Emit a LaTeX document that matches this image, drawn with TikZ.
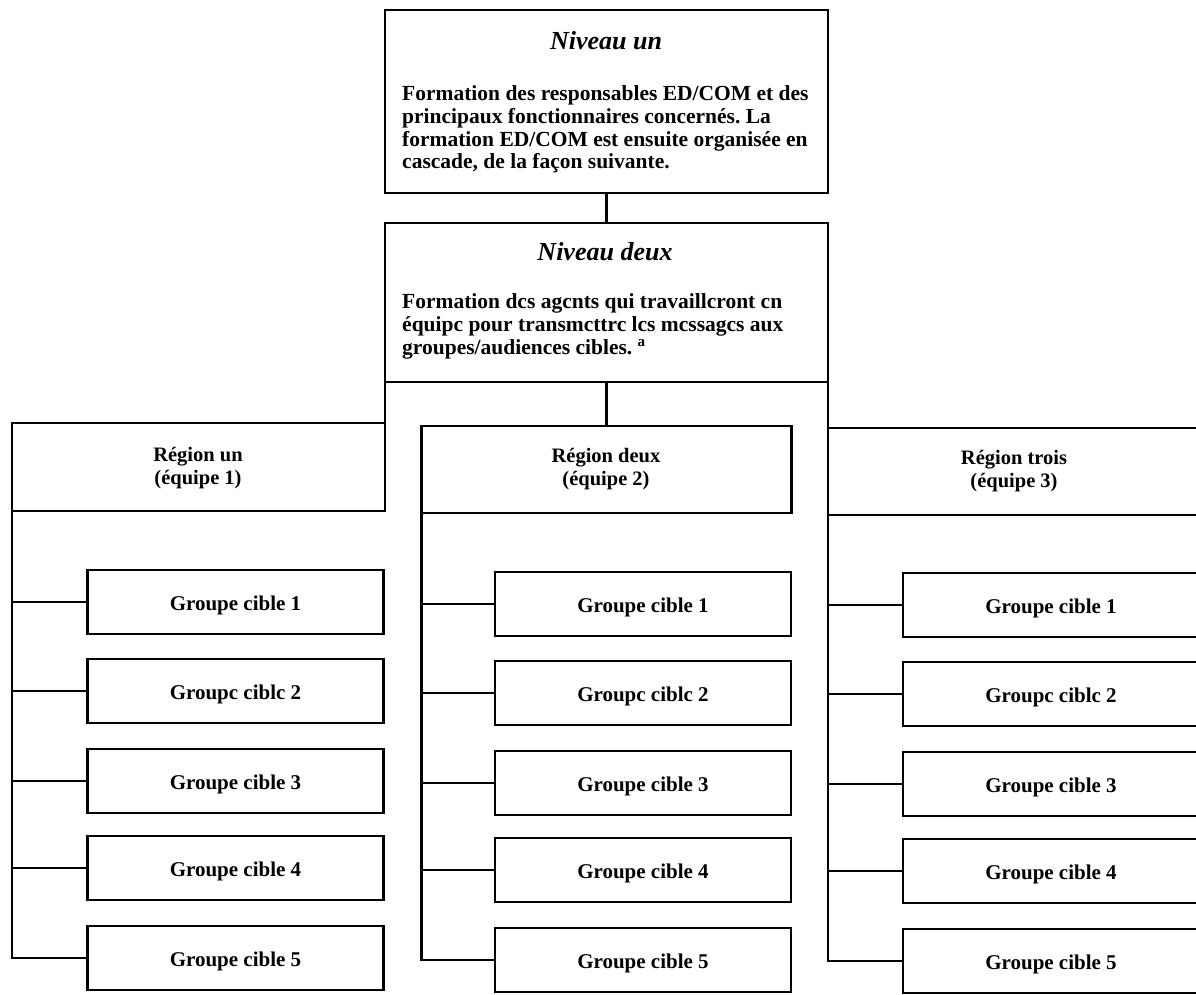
\documentclass[tikz,border=0pt]{standalone}
\usepackage{fontspec}
\setmainfont{Liberation Serif}
\frenchspacing
\begin{document}
\begin{tikzpicture}[x=1pt,y=-1pt,
  box/.style={draw, line width=2.8pt, rectangle, inner sep=0pt, outer sep=0pt},
  grp/.style={box, minimum width=296pt, minimum height=64pt,
    font=\fontsize{21}{23}\selectfont\bfseries, text height=17pt, text depth=0pt},
  reg/.style={box, minimum width=370pt, minimum height=87pt},
  rtxt/.style={anchor=base, inner sep=0pt, font=\fontsize{20.5}{23}\selectfont\bfseries},
  lvl/.style={box, minimum width=443pt},
  body/.style={anchor=base west, inner sep=0pt, font=\fontsize{21.5}{23}\selectfont\bfseries},
  ttl/.style={anchor=base, inner sep=0pt, font=\fontsize{26}{30}\selectfont\bfseries\itshape},
  link/.style={line width=2.8pt}
]
\clip (0,0) rectangle (1196,994);
% Niveau un
\node[lvl, minimum height=183pt] (n1) at (606.5,101.5) {};
\node[ttl] (t1) at (606,49) {Niveau un};
\node[body] (b11) at (402,100) {Formation des responsables ED/COM et des};
\node[body] (b12) at (402,123) {principaux fonctionnaires concernés. La};
\node[body] (b13) at (402,146) {formation ED/COM est ensuite organisée en};
\node[body] (b14) at (402,168) {cascade, de la façon suivante.};
% Niveau deux
\node[lvl, minimum height=159pt] (n2) at (606.5,302.5) {};
\node[ttl] (t2) at (605,260) {Niveau deux};
\node[body] (b21) at (402,308) {Formation dcs agcnts qui travaillcront cn};
\node[body] (b22) at (402,331) {équipc pour transmcttrc lcs mcssagcs aux};
\node[body] (b23) at (402,354) {groupes/audiences cibles. \textsuperscript{a}};
\draw[link] (n1.south) -- (n2.north);
% Regions
\node[reg, minimum width=373pt, minimum height=88pt] (r1) at (198.5,467) {};
\node[reg] (r2) at (606.5,469.5) {};
\node[reg] (r3) at (1013,471.5) {};
\node[rtxt] (r1a) at (198,461) {Région un};
\node[rtxt] (r1b) at (198,484) {(équipe 1)};
\node[rtxt] (r2a) at (606,462) {Région deux};
\node[rtxt] (r2b) at (606,485) {(équipe 2)};
\node[rtxt] (r3a) at (1014,464) {Région trois};
\node[rtxt] (r3b) at (1014,487) {(équipe 3)};
\draw[link] (n2.south west) -- (r1.north east);
\draw[link] (n2.south) -- (r2.north);
\draw[link] (n2.south east) -- (r3.north west);
% Groups
\foreach \c/\x/\dy/\sx in {1/235.5/-2/r1, 2/643/0/r2, 3/1051/1/r3}{
  \foreach \k/\y/\t in {1/604/Groupe cible 1, 2/693/Groupc ciblc 2, 3/783/Groupe cible 3, 4/870/Groupe cible 4, 5/960/Groupe cible 5}{
    \node[grp] (g\c-\k) at (\x,\y+\dy) {\t};
  }
  \draw[link] (\sx.south west) -- (\sx.south west |- g\c-5.west) -- (g\c-5.west);
  \foreach \k in {1,2,3,4}{
    \draw[link] (\sx.south west |- g\c-\k.west) -- (g\c-\k.west);
  }
}
\end{tikzpicture}
\end{document}
